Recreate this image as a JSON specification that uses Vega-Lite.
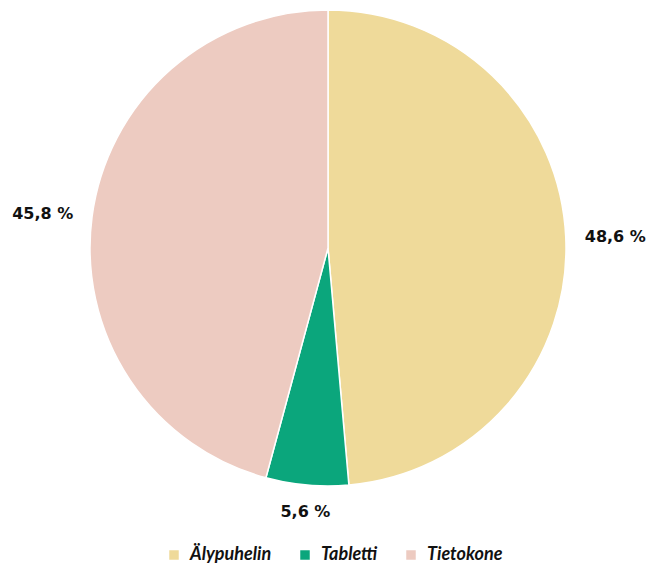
{
  "$schema": "https://vega.github.io/schema/vega-lite/v6.json",
  "width": 656,
  "height": 496,
  "padding": {"top": 0, "left": 0, "right": 0, "bottom": 73},
  "autosize": "none",
  "background": "white",
  "data": {
    "values": [
      {"laite": "Älypuhelin", "osuus": 48.6, "teksti": "48,6 %", "jarjestys": 1},
      {"laite": "Tabletti", "osuus": 5.6, "teksti": "5,6 %", "jarjestys": 2},
      {"laite": "Tietokone", "osuus": 45.8, "teksti": "45,8 %", "jarjestys": 3}
    ]
  },
  "encoding": {
    "theta": {"field": "osuus", "type": "quantitative", "stack": true},
    "order": {"field": "jarjestys", "type": "quantitative"}
  },
  "layer": [
    {
      "mark": {"type": "arc", "outerRadius": 238, "stroke": "white", "strokeWidth": 1.5},
      "encoding": {
        "color": {
          "field": "laite",
          "type": "nominal",
          "scale": {"domain": ["Älypuhelin", "Tabletti", "Tietokone"], "range": ["#efda9a", "#0ba67c", "#edcbc1"]},
          "legend": {
            "orient": "none",
            "legendX": 165,
            "legendY": 546,
            "direction": "horizontal",
            "title": null,
            "symbolType": "square",
            "symbolSize": 90,
            "symbolStrokeWidth": 0,
            "labelFont": "Lato",
            "labelFontStyle": "italic",
            "labelFontWeight": "bold",
            "labelFontSize": 18,
            "labelColor": "#111111",
            "columnPadding": 24,
            "labelOffset": 7
          }
        }
      }
    },
    {
      "mark": {
        "type": "text",
        "radius": 257,
        "font": "DejaVu Sans",
        "fontWeight": "bold",
        "fontSize": 16,
        "color": "#111111",
        "align": {"expr": "datum.jarjestys == 1 ? 'left' : datum.jarjestys == 3 ? 'right' : 'center'"},
        "baseline": {"expr": "datum.jarjestys == 2 ? 'top' : 'middle'"}
      },
      "encoding": {"text": {"field": "teksti", "type": "nominal"}}
    }
  ],
  "view": {"stroke": null}
}
